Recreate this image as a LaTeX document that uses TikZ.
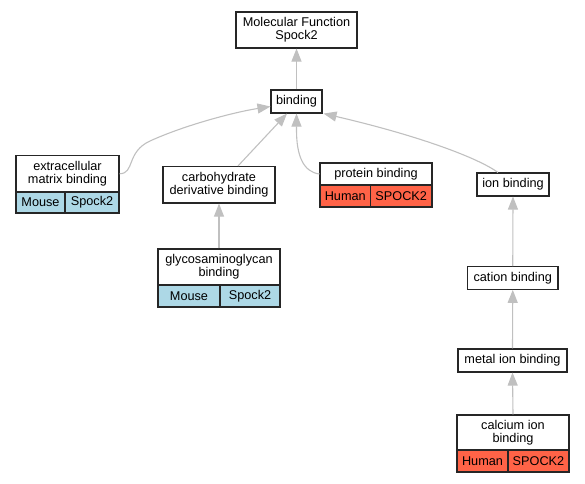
\documentclass[tikz,border=0pt]{standalone}
\usepackage{fontspec}
\setmainfont{Liberation Sans}
\usetikzlibrary{arrows.meta}
\definecolor{edgegray}{HTML}{C0C0C0}
\definecolor{mouseblue}{HTML}{ADD8E6}
\definecolor{humanred}{HTML}{FF6347}
\begin{document}
\begin{tikzpicture}[x=1pt,y=-1pt,
  term/.style={draw=black!85, line width=1.1pt, fill=white, inner sep=0pt, align=center,
    font=\fontsize{12.7}{13.3}\selectfont},
  mousecell/.style={term, fill=mouseblue},
  humancell/.style={term, fill=humanred},
  isa/.style={draw=edgegray, line width=1.1pt, -{Triangle[length=13pt,width=10pt]}}]
\useasboundingbox (0,0) rectangle (585,483);

\node[term, minimum width=121pt, minimum height=36pt] (mf) at (296.5,30) {Molecular Function\\Spock2};
\node[term, minimum width=51pt, minimum height=23pt] (bind) at (296.5,101.5) {binding};

\node[term, minimum width=103pt, minimum height=36.5pt] (ecm) at (67.5,173.75) {extracellular\\matrix binding};
\node[mousecell, minimum width=49pt, minimum height=21pt] (ecmorg) at (40.5,202.5) {Mouse};
\node[mousecell, minimum width=54pt, minimum height=21pt] (ecmgene) at (92,202.5) {Spock2};

\node[term, minimum width=112pt, minimum height=36.5pt] (carb) at (219,184.75) {carbohydrate\\derivative binding};

\node[term, minimum width=112pt, minimum height=22pt] (prot) at (376,174) {protein binding};
\node[humancell, minimum width=50.5pt, minimum height=22pt] (protorg) at (345.25,196) {Human};
\node[humancell, minimum width=61.5pt, minimum height=22pt] (protgene) at (401.25,196) {SPOCK2};

\node[term, minimum width=72pt, minimum height=23pt] (ion) at (513,184.5) {ion binding};

\node[term, minimum width=122pt, minimum height=36pt] (glyco) at (219,267) {glycosaminoglycan\\binding};
\node[mousecell, minimum width=62pt, minimum height=22pt] (glycoorg) at (189,296) {Mouse};
\node[mousecell, minimum width=60pt, minimum height=22pt] (glycogene) at (250,296) {Spock2};

\node[term, minimum width=90.5pt, minimum height=22.6pt] (cation) at (512.75,278) {cation binding};
\node[term, minimum width=109pt, minimum height=23pt] (metal) at (512.5,360.5) {metal ion binding};

\node[term, minimum width=112pt, minimum height=35pt] (calc) at (513,432.5) {calcium ion\\binding};
\node[humancell, minimum width=51pt, minimum height=22pt] (calcorg) at (482.5,461) {Human};
\node[humancell, minimum width=61pt, minimum height=22pt] (calcgene) at (538.5,461) {SPOCK2};

\draw[isa] (bind.north) -- (mf.south);
\draw[isa] (ecm.east) .. controls (135,173.75) and (126,152) .. (150,141)
  .. controls (185,125) and (235,112) .. ([yshift=-5pt]bind.west);
\draw[isa] ([xshift=19pt]carb.north) -- ([xshift=-9.5pt]bind.south);
\draw[isa] (prot.west) .. controls (303,172) and (296.5,155) .. (296.5,130) -- (bind.south);
\draw[isa] ([xshift=-15pt]ion.north) .. controls (478,158) and (420,136) .. ([xshift=1pt]bind.south east);
\draw[isa] (glyco.north) -- (carb.south);
\draw[isa] (cation.north) -- (ion.south);
\draw[isa] (metal.north) -- (cation.south);
\draw[isa] (calc.north) -- (metal.south);
\end{tikzpicture}
\end{document}
